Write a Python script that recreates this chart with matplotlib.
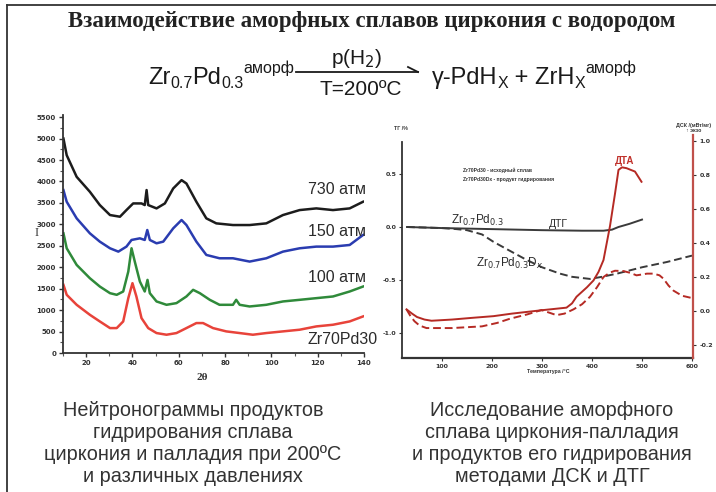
import matplotlib
matplotlib.use('Agg')
import matplotlib.pyplot as plt
from matplotlib.ticker import MultipleLocator, FixedLocator
from matplotlib.lines import Line2D

# ---------------- data: left chart (neutron diffraction) ----------------
theta_black = [10.2, 11.6, 15.9, 21.6, 25.9, 30.3, 34.6, 37.4, 40.3, 43.9, 45.3, 46.1, 46.8, 50.4, 54.0,
               57.6, 61.2, 63.3, 67.6, 71.9, 76.2, 83.4, 90.6, 97.8, 105.0, 112.2, 119.4, 126.6, 133.8, 139.6]
I_730 = [5000, 4612, 4108, 3760, 3450, 3217, 3178, 3333, 3488, 3488, 3450, 3800, 3450, 3372, 3488,
         3837, 4031, 3953, 3527, 3140, 3023, 2984, 2984, 3023, 3217, 3333, 3372, 3333, 3372, 3527]

theta_blue = [10.2, 11.6, 15.9, 21.6, 25.9, 30.3, 33.9, 37.4, 39.6, 43.2, 45.3, 46.4, 47.5, 50.4, 53.3,
              57.6, 61.2, 63.3, 67.6, 71.9, 77.6, 83.4, 90.6, 97.8, 105.0, 112.2, 119.4, 126.6, 133.8, 139.6]
I_150 = [3798, 3527, 3140, 2791, 2597, 2442, 2364, 2481, 2636, 2674, 2636, 2868, 2636, 2558, 2597,
         2907, 3101, 2984, 2597, 2287, 2209, 2209, 2132, 2209, 2364, 2442, 2481, 2481, 2519, 2752]

theta_green = [10.2, 11.6, 15.9, 21.6, 25.9, 30.3, 33.2, 36.0, 38.2, 39.6, 41.0, 43.2, 45.3, 46.5, 47.5,
               50.4, 54.7, 59.0, 63.3, 66.2, 69.1, 73.4, 77.6, 83.4, 84.8, 86.3, 90.6, 97.8, 105.0,
               112.2, 119.4, 126.6, 133.8, 139.6]
I_100 = [2791, 2442, 2054, 1744, 1550, 1395, 1357, 1434, 1899, 2442, 2132, 1667, 1434, 1705, 1395,
         1202, 1124, 1163, 1318, 1473, 1395, 1240, 1124, 1124, 1240, 1124, 1085, 1124, 1202,
         1240, 1279, 1318, 1434, 1550]

theta_red = [10.2, 11.6, 15.9, 21.6, 25.9, 30.3, 33.2, 36.0, 38.2, 40.0, 41.7, 43.9, 46.8, 50.4, 54.7,
             59.0, 63.3, 67.6, 70.5, 74.8, 80.5, 86.3, 92.0, 97.8, 105.0, 112.2, 119.4, 126.6, 133.8, 139.6]
I_alloy = [1589, 1357, 1124, 891, 736, 581, 581, 736, 1279, 1628, 1318, 814, 581, 465, 426,
           465, 581, 698, 698, 581, 504, 465, 426, 465, 504, 543, 620, 659, 736, 853]

left_labels = ["730 атм", "150 атм", "100 атм", "Zr70Pd30"]
left_xticks = [20, 40, 60, 80, 100, 120, 140]
left_yticks = [0, 500, 1000, 1500, 2000, 2500, 3000, 3500, 4000, 4500, 5000, 5500]

# ---------------- data: right chart (DSC / TG) ----------------
T_dtg = [30, 100, 200, 300, 380, 423, 440, 453, 475, 500]
TG_alloy = [0.0, -0.01, -0.02, -0.03, -0.035, -0.035, -0.025, 0.0, 0.03, 0.07]

T_tgd = [30, 100, 129, 150, 180, 203, 230, 269, 300, 336, 360, 396, 420, 450, 500, 550, 600]
TG_hydride = [0.0, -0.01, -0.02, -0.03, -0.07, -0.14, -0.21, -0.31, -0.38, -0.44, -0.47, -0.49,
              -0.47, -0.44, -0.38, -0.33, -0.27]

T_dta = [29, 40, 50, 65, 79, 120, 160, 203, 240, 270, 300, 336, 349, 360, 369, 390, 403, 413, 423,
         436, 446, 453, 460, 469, 486, 499]
DTA_alloy = [0.01, -0.015, -0.035, -0.05, -0.057, -0.05, -0.04, -0.03, -0.015, -0.005, 0.005, 0.016,
             0.02, 0.045, 0.084, 0.14, 0.18, 0.23, 0.3, 0.5, 0.69, 0.83, 0.845, 0.84, 0.82, 0.76]

T_dsc = [29, 37, 45, 55, 69, 90, 120, 150, 180, 210, 236, 270, 299, 315, 329, 345, 363, 380, 396, 410,
         423, 435, 446, 463, 476, 489, 500, 510, 523, 535, 543, 553, 563, 580, 602]
DSC_hydride = [0.01, -0.03, -0.06, -0.085, -0.10, -0.10, -0.10, -0.095, -0.09, -0.07, -0.045, -0.02,
               0.006, -0.01, -0.024, -0.015, 0.01, 0.04, 0.084, 0.14, 0.2, 0.225, 0.237, 0.235, 0.225,
               0.21, 0.215, 0.22, 0.22, 0.21, 0.19, 0.15, 0.12, 0.09, 0.075]

right_xticks = [100, 200, 300, 400, 500, 600]
right_tg_ticks = [0.5, 0.0, -0.5, -1.0]
right_dsc_ticks = [1.0, 0.8, 0.6, 0.4, 0.2, 0.0, -0.2]

W, H = 716, 492
fig = plt.figure(figsize=(W / 100, H / 100), dpi=100)
fig.patch.set_facecolor('white')


def fx(x):
    return x / W


def fy(y):
    return 1 - y / H


SANS = ['Liberation Sans', 'DejaVu Sans']
SERIF = ['Liberation Serif', 'DejaVu Serif']

# frame lines
fig.add_artist(Line2D([fx(7), 1.0], [fy(5), fy(5)], color='#333333', lw=1.3))
fig.add_artist(Line2D([fx(7), fx(7)], [fy(5), 0.0], color='#333333', lw=1.3))

# title
fig.text(fx(372), fy(22), "Взаимодействие аморфных сплавов циркония с водородом",
         family=SERIF, fontweight='bold', fontsize=16.5, color='#222222', ha='center', va='center')

renderer = fig.canvas.get_renderer()


def chain(x, y, parts):
    for s, size, dy in parts:
        t = fig.text(fx(x), fy(y + dy), s, family=SANS, fontsize=size, color='#1a1a1a',
                     ha='left', va='baseline')
        x += t.get_window_extent(renderer).width
    return x


chain(148, 84, [("Zr", 17, 0), ("0.7", 11.5, 4), ("Pd", 17, 0), ("0.3", 11.5, 4), ("аморф", 11.5, -11)])
chain(432, 84, [("γ-PdH", 17, 0), ("X", 11.5, 4), (" + ZrH", 17, 0), ("X", 11.5, 4), ("аморф", 11.5, -11)])
fig.text(fx(357), fy(58), r"p(H$_2$)", family=SANS, fontsize=15, color='#1a1a1a', ha='center',
         va='center')
fig.text(fx(361), fy(90), "T=200ºC", family=SANS, fontsize=15, color='#1a1a1a', ha='center',
         va='center')
fig.add_artist(Line2D([fx(296), fx(418)], [fy(72), fy(72)], color='#1a1a1a', lw=1.3))
fig.add_artist(Line2D([fx(408), fx(418)], [fy(67), fy(72)], color='#1a1a1a', lw=1.3))

# ---------------- left chart ----------------
axL = fig.add_axes([fx(63), fy(353), (364 - 63) / W, (353 - 115) / H])
axL.plot(theta_black, I_730, color='#1c1c1c', lw=1.8)
axL.plot(theta_blue, I_150, color='#2a3cb0', lw=1.8)
axL.plot(theta_green, I_100, color='#2f8a3a', lw=1.8)
axL.plot(theta_red, I_alloy, color='#e8433a', lw=1.8)
axL.set_xlim(10, 140)
axL.set_ylim(0, 5550)
axL.xaxis.set_major_locator(FixedLocator(left_xticks))
axL.xaxis.set_minor_locator(MultipleLocator(10))
axL.yaxis.set_major_locator(FixedLocator(left_yticks))
axL.yaxis.set_minor_locator(MultipleLocator(250))
for s in ['top', 'right']:
    axL.spines[s].set_visible(False)
for s in ['left', 'bottom']:
    axL.spines[s].set_color('#333333')
    axL.spines[s].set_linewidth(1.3)
axL.tick_params(which='major', direction='out', length=3, width=1, color='#333333',
                labelsize=5, labelcolor='#333333', pad=2)
axL.tick_params(which='minor', direction='out', length=2, width=0.8, color='#555555')
axL.set_xticklabels([str(v) for v in left_xticks], fontweight='bold')
axL.set_yticklabels([str(v) for v in left_yticks], fontweight='bold')
fig.text(fx(37), fy(233), "I", family=SERIF, fontsize=9, color='#333333', ha='center', va='center')
fig.text(fx(202), fy(377), "2θ", family=SERIF, fontsize=8, fontweight='bold', color='#333333',
         ha='center', va='center')

label_y = [190, 232, 278, 340]
for s, y in zip(left_labels, label_y):
    fig.text(fx(308), fy(y), s, family=SANS, fontsize=11.5, color='#2b2b2b', ha='left', va='center')

# ---------------- right chart ----------------
axR = fig.add_axes([fx(402), fy(358), (693 - 402) / W, (358 - 135) / H])
axR.patch.set_alpha(0)
axR2 = axR.twinx()
axR.plot(T_dtg, TG_alloy, color='#3a3a3a', lw=1.4)
axR.plot(T_tgd, TG_hydride, color='#3a3a3a', lw=1.4, ls=(0, (4, 2)))
axR2.plot(T_dta, DTA_alloy, color='#b52a24', lw=1.4)
axR2.plot(T_dsc, DSC_hydride, color='#b52a24', lw=1.4, ls=(0, (4, 2)))
axR.set_xlim(20, 602)
axR.set_ylim(-1.236, 0.868)
axR2.set_ylim(-0.276, 1.035)
axR.xaxis.set_major_locator(FixedLocator(right_xticks))
axR.yaxis.set_major_locator(FixedLocator(right_tg_ticks))
axR2.yaxis.set_major_locator(FixedLocator(right_dsc_ticks))
for s in ['top', 'right']:
    axR.spines[s].set_visible(False)
for s in ['top', 'left', 'bottom']:
    axR2.spines[s].set_visible(False)
axR.spines['left'].set_bounds(-1.236, 0.80)
axR.spines['left'].set_color('#333333')
axR.spines['bottom'].set_color('#333333')
axR.spines['left'].set_linewidth(1.3)
axR.spines['bottom'].set_linewidth(1.6)
axR2.spines['right'].set_color('#c0504a')
axR2.spines['right'].set_linewidth(1.6)
axR.tick_params(direction='out', length=2.5, width=0.8, color='#333333', labelsize=4.5,
                labelcolor='#333333', pad=1.5)
axR2.tick_params(direction='out', length=2.5, width=0.8, color='#333333', labelsize=4.5,
                 labelcolor='#333333', pad=2)
axR.set_xticklabels([str(v) for v in right_xticks], fontweight='bold')
axR.set_yticklabels(['%.1f' % v for v in right_tg_ticks], fontweight='bold')
axR2.set_yticklabels(['%.1f' % v for v in right_dsc_ticks], fontweight='bold')

fig.text(fx(401), fy(129), "ТГ /%", family=SANS, fontsize=3.8, fontweight='bold', color='#333333',
         ha='center', va='center')
fig.text(fx(694), fy(128), "ДСК /(мВт/мг)\n↑ экзо", family=SANS, fontsize=3.8, fontweight='bold',
         color='#333333', ha='center', va='center', linespacing=1.0)
fig.text(fx(548), fy(371.5), "Температура /°C", family=SANS, fontsize=3.8, fontweight='bold',
         color='#333333', ha='center', va='center')
fig.text(fx(463), fy(170), "Zr70Pd30 - исходный сплав", family=SANS, fontsize=3.6,
         fontweight='bold', color='#333333', ha='left', va='center')
fig.text(fx(463), fy(180), "Zr70Pd30Dx - продукт гидрирования", family=SANS, fontsize=3.6,
         fontweight='bold', color='#333333', ha='left', va='center')
fig.text(fx(625), fy(161), "ДТА", family=SANS, fontsize=7, fontweight='bold', color='#c0302a',
         ha='center', va='center')
fig.text(fx(477), fy(220), r"Zr$_{0.7}$Pd$_{0.3}$", family=SANS, fontsize=8.5, color='#2b2b2b',
         ha='center', va='center')
fig.text(fx(558), fy(224), "ДТГ", family=SANS, fontsize=7.5, color='#2b2b2b', ha='center',
         va='center')
fig.text(fx(510), fy(263), r"Zr$_{0.7}$Pd$_{0.3}$D$_x$", family=SANS, fontsize=8.5,
         color='#2b2b2b', ha='center', va='center')

# ---------------- captions ----------------
cap_left = ["Нейтронограммы продуктов", "гидрирования сплава", "циркония и палладия при 200ºC",
            "и различных давлениях"]
cap_right = ["Исследование аморфного", "сплава циркония-палладия", "и продуктов его гидрирования",
             "методами ДСК и ДТГ"]
for i, (a, b) in enumerate(zip(cap_left, cap_right)):
    y = 410 + 22 * i
    fig.text(fx(193), fy(y), a, family=SANS, fontsize=14.3, color='#333333', ha='center', va='center')
    fig.text(fx(552), fy(y), b, family=SANS, fontsize=14.3, color='#333333', ha='center', va='center')

fig.savefig('out.png', dpi=100, facecolor='white')
